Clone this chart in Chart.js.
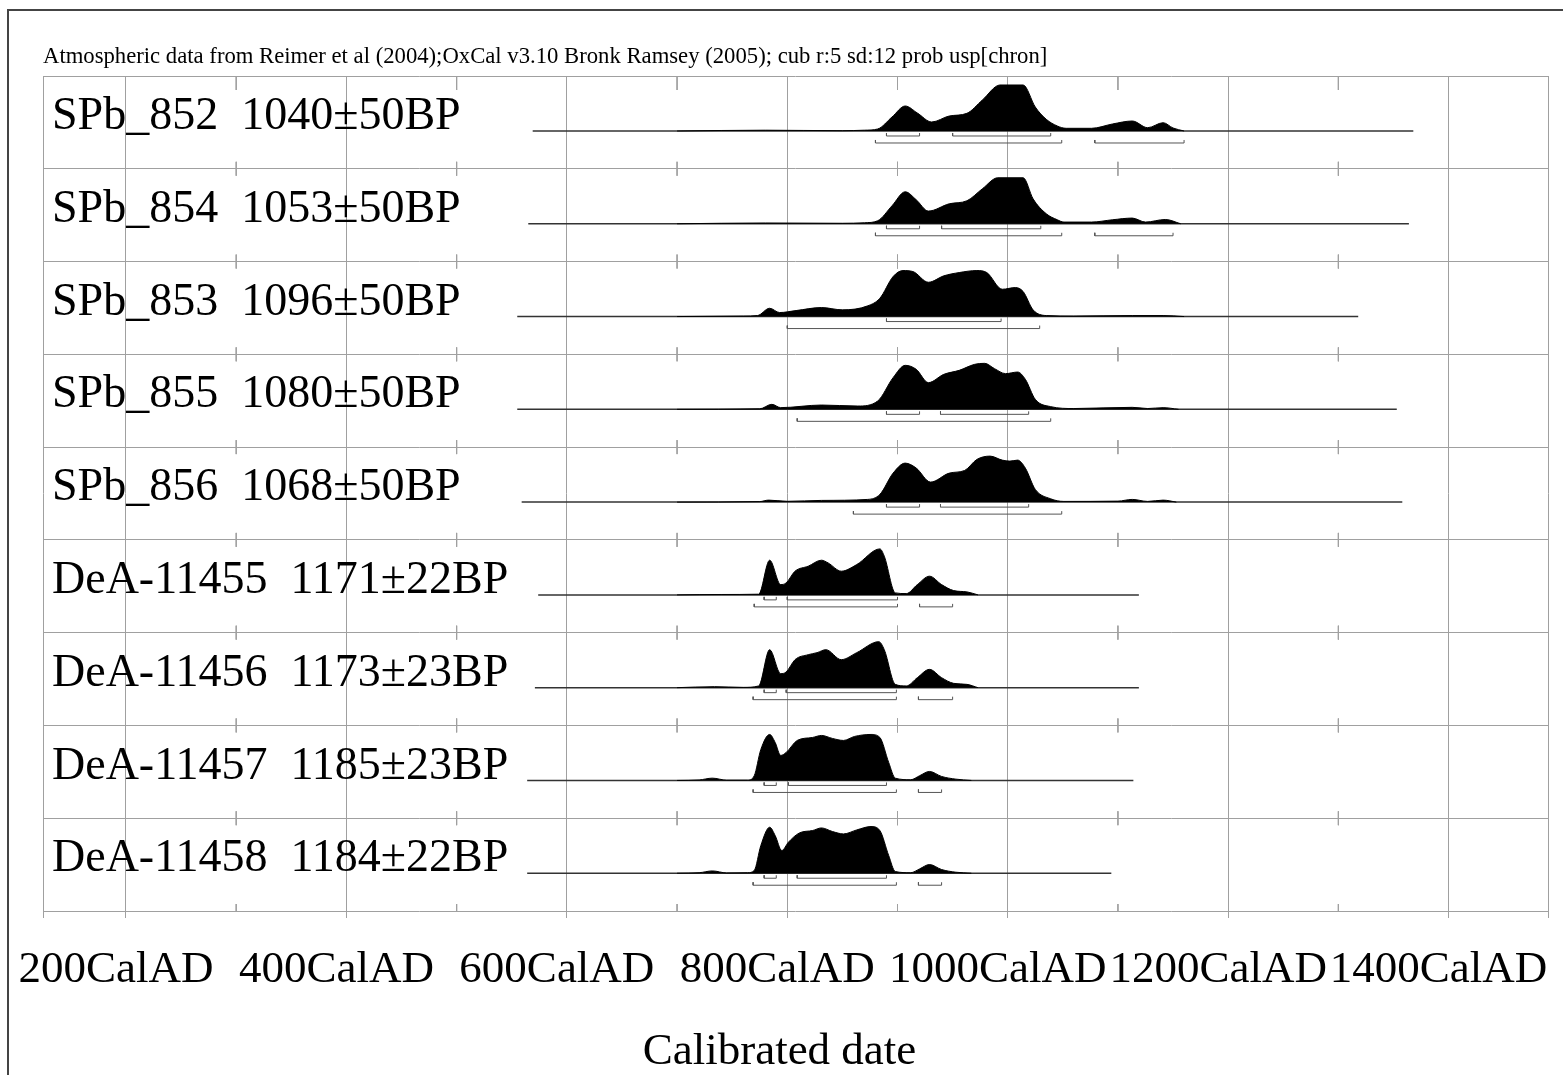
<!DOCTYPE html>
<html>
<head>
<meta charset="utf-8">
<script src="https://cdn.jsdelivr.net/npm/chart.js@4.4.1/dist/chart.umd.min.js"></script>
<style>
  html, body { margin: 0; padding: 0; background: #fff; }
  #wrap { position: relative; width: 1563px; height: 1075px; overflow: hidden; }
  #frame { position: absolute; left: 7px; top: 9px; width: 1600px; height: 1100px;
           border-left: 2px solid #444; border-top: 2px solid #444; }
  canvas { position: absolute; left: 0; top: 0; }
</style>
</head>
<body>
<div id="wrap">
  <div id="frame"></div>
  <canvas id="chart" width="1563" height="1075"></canvas>
</div>
<script>
// Sample names and radiocarbon ages
const sampleLabels = [
  'SPb_852  1040±50BP',
  'SPb_854  1053±50BP',
  'SPb_853  1096±50BP',
  'SPb_855  1080±50BP',
  'SPb_856  1068±50BP',
  'DeA-11455  1171±22BP',
  'DeA-11456  1173±23BP',
  'DeA-11457  1185±23BP',
  'DeA-11458  1184±22BP'
];

// Range of the calculated curve (years AD) for each sample
const baselineStart = [569, 565, 555, 555, 559, 574, 571, 564, 564];
const baselineEnd = [1368, 1364, 1318, 1353, 1358, 1119, 1119, 1114, 1094];

// Calibrated probability distributions (year AD, relative probability)
const years852 = [700, 780, 850, 870, 882, 895, 907, 918, 931, 947, 963, 977, 993, 1014, 1025, 1035, 1045, 1053, 1076, 1095, 1113, 1127, 1141, 1150, 1160];
const prob852 = [0, 0.8, 0.3, 0.8, 2, 14, 25, 18, 9, 15, 17.7, 31, 46, 46, 24, 11.7, 5, 2.7, 2.7, 7, 10, 3.3, 8.3, 3, 0];

const years854 = [700, 780, 850, 870, 882, 895, 907, 917, 928, 947, 963, 977, 991, 1014, 1023, 1035, 1045, 1051, 1076, 1095, 1113, 1125, 1143, 1157];
const prob854 = [0, 0.8, 0.5, 1, 3, 18, 32, 24, 12.7, 20, 23, 35, 46, 46, 25, 10, 4, 1.7, 1.7, 4, 5.7, 1.7, 4.3, 0];

const years853 = [700, 760, 773, 784, 793, 808, 831, 850, 873, 884, 896, 905, 914, 928, 942, 956, 972, 981, 995, 1007, 1014, 1023, 1035, 1060, 1113, 1141, 1160];
const prob853 = [0, 0.5, 1, 8.3, 4, 6, 9, 6.7, 10.7, 18.3, 40, 46, 45, 34.3, 40.7, 44, 46, 44, 27.3, 29, 25, 6.7, 1, 0.5, 1, 1, 0];

const years855 = [700, 775, 786, 794, 831, 864, 882, 896, 907, 917, 928, 942, 956, 970, 979, 988, 998, 1009, 1016, 1025, 1039, 1060, 1113, 1127, 1141, 1155];
const prob855 = [0, 0.5, 5, 1.7, 4.3, 3.3, 8.3, 31.7, 44, 40, 26.7, 35, 39, 45, 46, 40.7, 35.7, 37.3, 30, 10, 2.7, 0.8, 2, 0.8, 1.7, 0];

const years856 = [700, 775, 783, 800, 831, 873, 884, 896, 907, 917, 930, 947, 961, 972, 984, 995, 1002, 1009, 1016, 1025, 1039, 1051, 1100, 1113, 1127, 1141, 1153];
const prob856 = [0, 0.5, 2, 0.8, 1.7, 2.7, 7.7, 29, 39, 34, 20, 29, 31.7, 42.7, 46, 42, 41, 42, 34, 12.7, 3.3, 0.7, 1, 2.7, 0.7, 2, 0];

const years11455 = [700, 740, 774, 784, 794, 799, 807, 819, 831, 837, 849, 863, 884, 888, 898, 908, 918, 929, 940, 951, 963, 973];
const prob11455 = [0, 0.4, 0.7, 34.7, 10.3, 12, 23.7, 28.7, 34.7, 32, 23.7, 30.3, 46, 38.7, 2, 1.3, 10.3, 18.7, 10.3, 4.3, 3, 0];

const years11456 = [700, 734, 760, 774, 784, 794, 799, 807, 819, 827, 835, 849, 863, 883, 888, 898, 908, 918, 929, 940, 951, 963, 973];
const prob11456 = [0, 1, 0.3, 1.7, 38, 14, 15.7, 28, 33, 35, 38, 28, 35, 46, 38, 3.3, 1.7, 10, 18.3, 10, 4.3, 3.3, 0];

const years11457 = [700, 720, 732, 745, 764, 770, 776, 784, 789, 794, 799, 809, 823, 831, 841, 851, 861, 876, 884, 892, 898, 912, 920, 929, 940, 953, 967];
const prob11457 = [0, 0.5, 2.3, 0.3, 0.3, 4.7, 31, 46, 38, 25, 28, 40, 43, 45, 42, 40, 44, 46, 43, 18, 2.3, 0.7, 4.7, 9, 4, 1.3, 0];

const years11458 = [700, 720, 732, 745, 764, 770, 776, 784, 789, 795, 801, 811, 823, 831, 841, 851, 863, 876, 884, 892, 898, 912, 920, 929, 940, 953, 967];
const prob11458 = [0, 0.5, 2.3, 0.3, 0.5, 2.7, 27.7, 46, 37.7, 22.7, 31, 40.3, 42.7, 45.3, 41.7, 39.3, 43.3, 46.7, 42.7, 17.7, 1.7, 0.5, 4.3, 8.7, 3.7, 1, 0];

// 68.2% and 95.4% ranges (years AD)
const sigma1 = [
  [[890, 920], [950, 1039]],
  [[890, 920], [940, 1030]],
  [[890, 994]],
  [[890, 920], [939, 1019]],
  [[890, 920], [939, 1019]],
  [[779, 790], [800, 900]],
  [[779, 790], [799, 899]],
  [[779, 790], [801, 890]],
  [[779, 790], [809, 890]]
];
const sigma2 = [
  [[880, 1049], [1079, 1160]],
  [[880, 1049], [1079, 1150]],
  [[800, 1029]],
  [[809, 1039]],
  [[860, 1049]],
  [[770, 900], [920, 950]],
  [[769, 899], [919, 950]],
  [[769, 899], [919, 940]],
  [[769, 899], [919, 940]]
];

// Axis ticks (years AD)
const axisYears = [200, 400, 600, 800, 1000, 1200, 1400];
const minorYears = [300, 500, 700, 900, 1100, 1300];

const titleText = 'Atmospheric data from Reimer et al (2004);OxCal v3.10 Bronk Ramsey (2005); cub r:5 sd:12 prob usp[chron]';
const axisTitle = 'Calibrated date';

// ---- layout constants ----
const SERIF = "'Liberation Serif', 'Times New Roman', serif";
const X_MIN = 124.7, X_MAX = 1490.2;
const ROWS = sampleLabels.length;
const ROW_PX = 92.78;             // pixel height of one row
const BASE = 55 / ROW_PX;         // baseline position inside a row
const LABEL_POS = 41 / ROW_PX;    // label position inside a row
const PROB_SCALE = 1 / ROW_PX;
const S1_OFF = 5 / ROW_PX, S2_OFF = 12 / ROW_PX, TICK = 3 / ROW_PX;
const GRID = '#a0a0a0';

const allYears = [years852, years854, years853, years855, years856, years11455, years11456, years11457, years11458];
const allProbs = [prob852, prob854, prob853, prob855, prob856, prob11455, prob11456, prob11457, prob11458];

const datasets = [];

allYears.forEach((years, i) => {
  const base = i + BASE;
  const probs = allProbs[i];

  // distribution
  datasets.push({
    data: years.map((x, k) => ({ x: x, y: base - probs[k] * PROB_SCALE })),
    borderColor: '#000',
    backgroundColor: '#000',
    borderWidth: 1,
    fill: { value: base },
    cubicInterpolationMode: 'monotone',
    pointRadius: 0
  });

  // baseline
  datasets.push({
    data: [{ x: baselineStart[i], y: base }, { x: baselineEnd[i], y: base }],
    borderColor: '#333',
    borderWidth: 1.5,
    pointRadius: 0,
    fill: false
  });

  // range brackets
  const pts = [];
  const addRanges = (ranges, y) => {
    ranges.forEach(r => {
      pts.push({ x: r[0], y: y - TICK }, { x: r[0], y: y }, { x: r[1], y: y }, { x: r[1], y: y - TICK });
      pts.push({ x: r[1], y: null });
    });
  };
  addRanges(sigma1[i], base + S1_OFF);
  addRanges(sigma2[i], base + S2_OFF);
  datasets.push({
    data: pts,
    borderColor: '#555',
    borderWidth: 1,
    pointRadius: 0,
    fill: false,
    spanGaps: false,
    tension: 0
  });
});

// minor tick marks at each row boundary
const minorPts = [];
minorYears.forEach(yr => {
  for (let r = 0; r <= ROWS; r++) {
    const up = r === 0 ? 0 : 7 / ROW_PX;
    const down = r === 0 ? 14 / ROW_PX : (r === ROWS ? 0 : 7 / ROW_PX);
    minorPts.push({ x: yr, y: r - up }, { x: yr, y: r + down }, { x: yr, y: null });
  }
});
datasets.push({
  data: minorPts,
  borderColor: GRID,
  borderWidth: 1,
  pointRadius: 0,
  fill: false,
  spanGaps: false
});

const ctx = document.getElementById('chart').getContext('2d');
new Chart(ctx, {
  type: 'line',
  data: { datasets: datasets },
  options: {
    responsive: false,
    animation: false,
    events: [],
    // left padding + y axis width put the plot edge at 43px
    layout: { padding: { left: 11, right: 15, top: 45, bottom: 0 } },
    plugins: {
      legend: { display: false },
      tooltip: { enabled: false },
      title: { display: false },
      subtitle: {
        display: true,
        text: axisTitle,
        position: 'bottom',
        align: 'center',
        color: '#000',
        font: { family: SERIF, size: 45, weight: 'normal', lineHeight: 1 },
        padding: { top: 8, bottom: 0 }
      }
    },
    scales: {
      x: {
        type: 'linear',
        min: X_MIN,
        max: X_MAX,
        z: 1,
        afterBuildTicks: s => { s.ticks = [X_MIN, ...axisYears, X_MAX].map(v => ({ value: v })); },
        afterFit: s => { s.paddingLeft = 0; s.paddingRight = 0; },
        grid: { color: GRID, lineWidth: 1, drawTicks: true, tickLength: 7 },
        border: { display: false },
        ticks: {
          callback: v => axisYears.includes(v) ? v + 'CalAD' : '',
          autoSkip: false,
          maxRotation: 0,
          minRotation: 0,
          padding: 29.5,
          labelOffset: -10,
          color: '#000',
          font: { family: SERIF, size: 45, lineHeight: 1 }
        }
      },
      xTop: {
        type: 'linear',
        position: 'top',
        min: X_MIN,
        max: X_MAX,
        grid: { display: false, drawTicks: false },
        border: { display: false },
        ticks: { display: false },
        afterFit: s => { s.paddingLeft = 0; s.paddingRight = 0; },
        title: {
          display: true,
          text: titleText,
          align: 'start',
          color: '#000',
          font: { family: SERIF, size: 22.7, lineHeight: '24px' },
          padding: { top: 0, bottom: 7 }
        }
      },
      y: {
        type: 'linear',
        reverse: true,
        min: 0,
        max: ROWS,
        position: 'left',
        afterBuildTicks: s => { s.ticks = sampleLabels.map((_, i) => ({ value: i + LABEL_POS })); },
        afterFit: s => { s.width = 32; },
        grid: { display: false, drawTicks: false },
        border: { display: false },
        ticks: {
          mirror: true,
          padding: 9,
          autoSkip: false,
          callback: (v, idx) => sampleLabels[idx],
          color: '#000',
          font: { family: SERIF, size: 46 }
        }
      },
      ySep: {
        type: 'linear',
        reverse: true,
        min: 0,
        max: ROWS,
        position: 'left',
        afterBuildTicks: s => { s.ticks = Array.from({ length: ROWS + 1 }, (_, i) => ({ value: i })); },
        afterFit: s => { s.width = 0; },
        grid: { color: GRID, lineWidth: 1, drawTicks: false },
        border: { display: false },
        ticks: { display: false }
      }
    }
  }
});
</script>
</body>
</html>
